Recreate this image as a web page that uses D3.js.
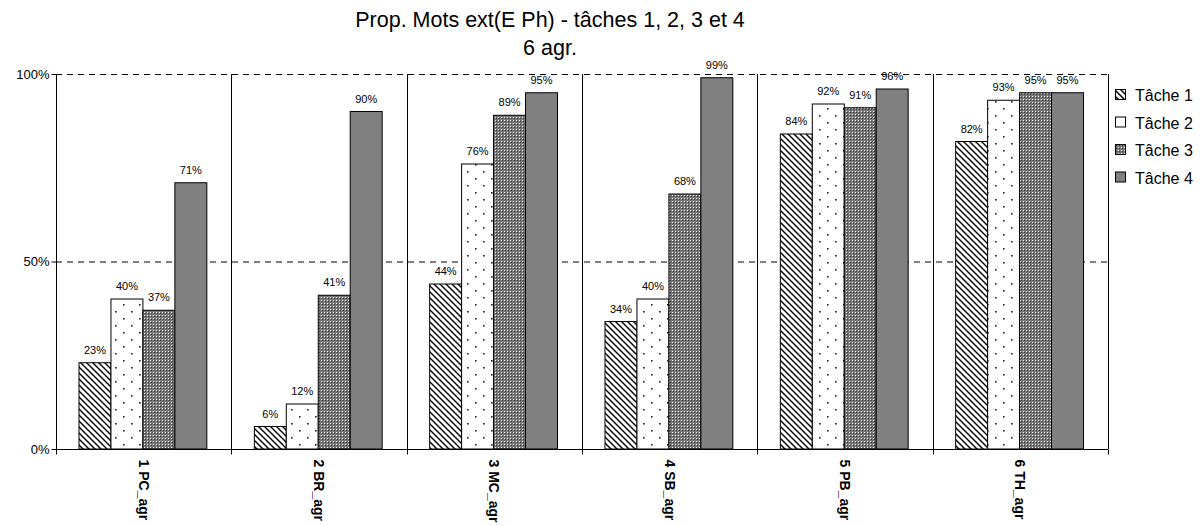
<!DOCTYPE html>
<html><head><meta charset="utf-8">
<script src="https://cdn.jsdelivr.net/npm/d3@7"></script>
<style>body{margin:0;background:#fff;} text{font-family:Arial,"Liberation Sans",sans-serif;}</style>
</head><body>
<svg id="c" width="1204" height="526"></svg>
<script>
const categories = ["1 PC_agr", "2 BR_agr", "3 MC_agr", "4 SB_agr", "5 PB_agr", "6 TH_agr"];
const series = ["Tâche 1", "Tâche 2", "Tâche 3", "Tâche 4"];
const tache1 = [23, 6, 44, 34, 84, 82];
const tache2 = [40, 12, 76, 40, 92, 93];
const tache3 = [37, 41, 89, 68, 91, 95];
const tache4 = [71, 90, 95, 99, 96, 95];
const yTicks = [0, 50, 100];
const titleLines = ["Prop. Mots ext(E Ph) - tâches 1, 2, 3 et 4", "6 agr."];

(function(){
const values = [tache1, tache2, tache3, tache4];
const svg = d3.select("#c");
const defs = svg.append("defs");

// patterns
const p1 = defs.append("pattern").attr("id","p1").attr("patternUnits","userSpaceOnUse").attr("width",6).attr("height",6);
p1.append("rect").attr("width",6).attr("height",6).attr("fill","#fff");
p1.append("path").attr("d","M-1,-1 L7,7 M-4,2 L2,8 M2,-4 L8,2").attr("stroke","#000").attr("stroke-width",1.4);

const p2 = defs.append("pattern").attr("id","p2").attr("patternUnits","userSpaceOnUse").attr("width",16).attr("height",14);
p2.append("rect").attr("width",16).attr("height",14).attr("fill","#fff");
p2.append("rect").attr("x",3).attr("y",3).attr("width",1.6).attr("height",1.6).attr("fill","#222");
p2.append("rect").attr("x",11).attr("y",10).attr("width",1.6).attr("height",1.6).attr("fill","#222");

const p3 = defs.append("pattern").attr("id","p3").attr("patternUnits","userSpaceOnUse").attr("width",3).attr("height",3);
p3.append("rect").attr("width",3).attr("height",3).attr("fill","#777");
p3.append("rect").attr("x",0).attr("y",0).attr("width",1).attr("height",1).attr("fill","#eee");
p3.append("rect").attr("x",1).attr("y",1).attr("width",1).attr("height",1).attr("fill","#3a3a3a");

const fills = ["url(#p1)","url(#p2)","url(#p3)","#808080"];

const L = 56, R = 1108, T = 74, B = 449;
const x = d3.scaleBand().domain(categories).range([L, R]).padding(0);
const bw = x.bandwidth();
const xi = d3.scaleBand().domain(series).range([23, bw - 24.5]).padding(0);
const y = d3.scaleLinear().domain([0, 100]).range([B, T]);

// gridlines
svg.append("g").selectAll("line").data(yTicks.filter(d => d > 0)).join("line")
  .attr("x1", L).attr("x2", R).attr("y1", d => y(d)+0.5).attr("y2", d => y(d)+0.5)
  .attr("stroke","#000").attr("stroke-width",1).attr("stroke-dasharray","6,5");

// category separators
svg.append("g").selectAll("line").data(categories.slice(1)).join("line")
  .attr("x1", d => Math.round(x(d))+0.5).attr("x2", d => Math.round(x(d))+0.5).attr("y1", T).attr("y2", B)
  .attr("stroke","#000").attr("stroke-width",1);

// bars
const g = svg.append("g");
categories.forEach((c, ci) => {
  series.forEach((s, si) => {
    const v = values[si][ci];
    g.append("rect")
      .attr("x", x(c) + xi(s)).attr("y", y(v))
      .attr("width", xi.bandwidth()).attr("height", y(0) - y(v))
      .attr("fill", fills[si]).attr("stroke","#000").attr("stroke-width",1);
    g.append("text")
      .attr("x", x(c) + xi(s) + xi.bandwidth()/2).attr("y", y(v) - 9)
      .attr("text-anchor","middle").attr("font-size",11).attr("fill","#000")
      .text(v + "%");
  });
});

// right border
svg.append("line").attr("x1", R+0.5).attr("x2", R+0.5).attr("y1", T).attr("y2", B).attr("stroke","#000");

// y axis
const yAxis = d3.axisLeft(y).tickValues(yTicks).tickSize(5).tickFormat(d => d + "%");
const ya = svg.append("g").attr("transform", `translate(${L+0.5},0)`).call(yAxis);
ya.select(".domain").attr("stroke","#000").attr("d", `M0,${T}V${B}`);
ya.selectAll("text").attr("font-size",13).attr("font-family","Arial, Liberation Sans, sans-serif").attr("fill","#000").attr("x",-7);

// x axis
const xa = svg.append("g").attr("transform", `translate(0,${B+0.5})`);
xa.append("line").attr("x1", L).attr("x2", R).attr("stroke","#000");
xa.selectAll("line.t").data(categories.concat(["end"])).join("line").attr("class","t")
  .attr("x1", (d,i) => Math.round(L + i*bw) + 0.5).attr("x2", (d,i) => Math.round(L + i*bw) + 0.5)
  .attr("y1", 0).attr("y2", 5).attr("stroke","#000");
xa.selectAll("text.c").data(categories).join("text").attr("class","c")
  .attr("transform", d => `translate(${x(d) + bw/2 - 5},${10}) rotate(90)`)
  .attr("font-size",14).attr("font-weight","bold").attr("fill","#000")
  .attr("text-anchor","start")
  .text(d => d);

// title
svg.append("g").selectAll("text").data(titleLines).join("text")
  .attr("x", 550).attr("y", (d,i) => 27 + i*28)
  .attr("text-anchor","middle").attr("font-size",21.5).attr("fill","#000")
  .text(d => d);

// legend
const lg = svg.append("g").attr("transform","translate(1115,0)");
series.forEach((s, i) => {
  const cy = 95 + i*27.5;
  lg.append("rect").attr("x",0.5).attr("y",cy-5.5).attr("width",10).attr("height",10)
    .attr("fill",fills[i]).attr("stroke","#000").attr("stroke-width",1);
  lg.append("text").attr("x",20).attr("y",cy+6).attr("font-size",16).attr("fill","#000").text(s);
});
})();
</script>
</body></html>
